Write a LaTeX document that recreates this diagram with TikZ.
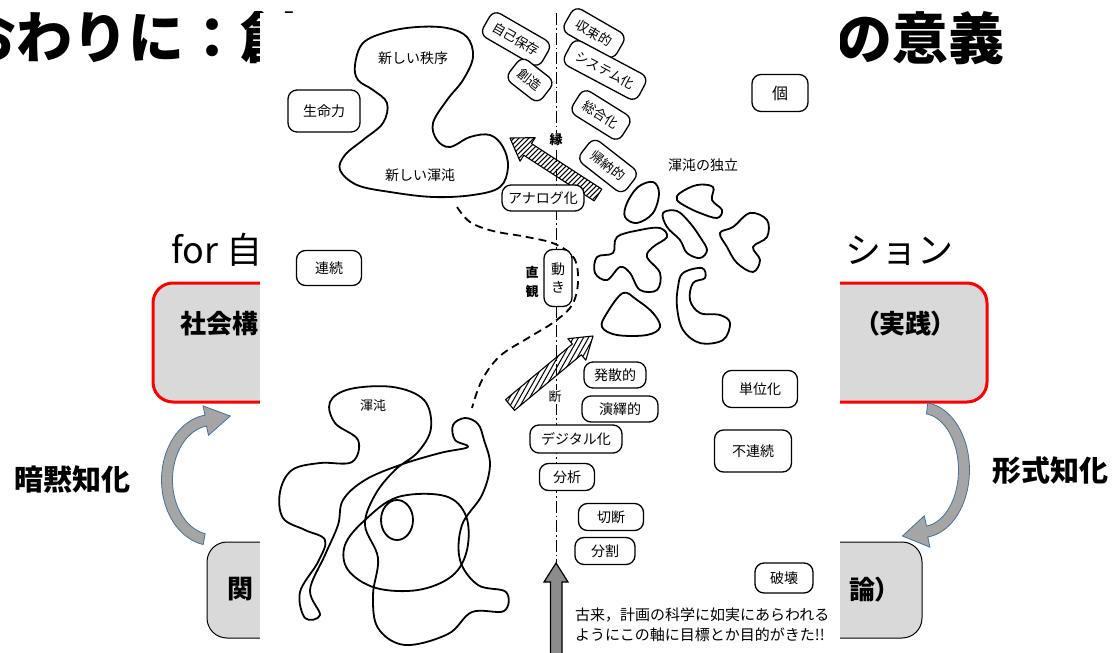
\documentclass[tikz,border=0pt]{standalone}
\usepackage{fontspec}
\newfontfamily\jp{Noto Sans CJK JP}
\usetikzlibrary{calc}
\definecolor{slidegray}{HTML}{D9D9D9}
\definecolor{arrowgray}{HTML}{A5A5A5}
\definecolor{arrowedge}{HTML}{41719C}

% hatched block arrow from tail #1 to tip #2; #3 sets the slant of the hatching
\newcommand\hatcharrow[3]{%
  \path ($(#2)!21pt!(#1)$) coordinate (hb)
    ($(#1)!7pt!90:(#2)$) coordinate (h1) ($(hb)!7pt!90:(#2)$) coordinate (h2)
    ($(hb)!14pt!90:(#2)$) coordinate (h3) ($(hb)!14pt!-90:(#2)$) coordinate (h5)
    ($(hb)!7pt!-90:(#2)$) coordinate (h6) ($(#1)!7pt!-90:(#2)$) coordinate (h7);
  \begin{scope}
    \clip (h1) -- (h2) -- (h3) -- (#2) -- (h5) -- (h6) -- (h7) -- cycle;
    \foreach \k in {-160,-155,...,160}
      \draw[line width=1pt] ($(hb)+(\k-#3,80)$) -- ($(hb)+(\k+#3,-80)$);
  \end{scope}
  \draw[line width=1.1pt, line join=round] (h1) -- (h2) -- (h3) -- (#2) -- (h5) -- (h6) -- (h7) -- cycle;}

\begin{document}
\begin{tikzpicture}[x=1pt,y=-1pt,
  slidetext/.style={inner sep=0pt, font=\jp\bfseries\fontsize{26}{28}\selectfont\addfontfeature{RawFeature=+palt}},
  sidelabel/.style={inner sep=0pt, font=\jp\bfseries\fontsize{29}{30}\selectfont},
  curvedarrow/.style={fill=arrowgray, draw=arrowedge, line width=0.8pt},
  pill/.style={draw, fill=white, rounded corners=9pt, line width=1.3pt, inner sep=0pt,
    font=\jp\fontsize{14}{18}\selectfont},
  tiltpill/.style={pill, rounded corners=8pt, minimum height=28pt, font=\jp\fontsize{13}{16}\selectfont},
  scantext/.style={inner sep=0pt, font=\jp\fontsize{14}{18}\selectfont},
  blob/.style={line width=1.8pt, line join=round},
  axisline/.style={line width=1pt, dash pattern=on 12pt off 3pt on 1.5pt off 3pt},
  dashline/.style={line width=1.8pt, dash pattern=on 8pt off 5pt}]
\useasboundingbox (0,0) rectangle (1117,653);
\fill[white] (0,0) rectangle (1117,653);

% ---------- slide ----------
\node[anchor=west, inner sep=0pt, font=\jp\bfseries\fontsize{56}{60}\selectfont] (title1) at (-40,38) {おわりに：創};
\node[anchor=east, inner sep=0pt, font=\jp\bfseries\fontsize{56}{60}\selectfont] (title2) at (1005,38) {の意義};

\node[anchor=base west, inner sep=0pt, font=\jp\fontsize{36}{40}\selectfont] (sub1) at (171,263) {for 自};
\node[anchor=base east, inner sep=0pt, font=\jp\fontsize{36}{40}\selectfont] (sub2) at (954,263) {ション};

\node[draw=red, line width=3pt, fill=slidegray, rounded corners=20pt,
  minimum width=834pt, minimum height=119pt, inner sep=0pt] (practice) at (570,342.5) {};
\node[slidetext, anchor=west] (practiceL) at (180,324) {社会構};
\node[slidetext, anchor=east] (practiceR) at (945,324) {（実践）};

\node[draw=black, line width=1pt, fill=slidegray, rounded corners=20pt,
  minimum width=715pt, minimum height=96pt, inner sep=0pt] (theory) at (564.5,590) {};
\node[slidetext, anchor=west] (theoryL) at (227,589) {関};
\node[slidetext, anchor=east] (theoryR) at (889,590) {論）};

% curved arrows
\filldraw[curvedarrow]
  plot[domain=100:262, samples=40, variable=\t] ({212+50.5*cos(\t)},{480+65.5*sin(\t)})
  -- (203,405.9) -- (230.3,416) -- (208.5,435.3)
  -- plot[domain=262:100, samples=40, variable=\t] ({212+39.5*cos(\t)},{480+54.5*sin(\t)})
  -- cycle;
\filldraw[curvedarrow]
  plot[domain=-83:83, samples=40, variable=\t] ({922+47.5*cos(\t)},{470+67.5*sin(\t)})
  -- (929.9,547.2) -- (902.5,536) -- (924.3,515.8)
  -- plot[domain=83:-83, samples=40, variable=\t] ({922+36.5*cos(\t)},{470+56.5*sin(\t)})
  -- cycle;

\node[sidelabel] (tacit) at (73,480) {暗黙知化};
\node[sidelabel] (formal) at (1050,471) {形式知化};

% ---------- scanned figure ----------
\fill[white] (260,13) rectangle (840,653);

\coordinate (axtop) at (556,13);
\coordinate (axbot) at (556,563);
\draw[axisline] (axtop) -- (axbot);

% big upward arrow
\filldraw[fill=black!45, draw=black, line width=1.2pt]
  (550.5,655) -- (550.5,582) -- (544,582) -- (axbot) -- (568,582) -- (562,582) -- (562,655) -- cycle;

% new order / new chaos
\draw[blob] plot[smooth cycle, tension=0.6] coordinates {
  (355,65) (363,43) (387,32) (417,27) (447,28) (467,37) (473,57) (463,80)
  (447,100) (433,123) (437,140) (450,147) (470,137) (490,135) (503,147)
  (508,167) (500,187) (473,195) (433,197) (390,192) (357,185) (340,170)
  (345,155) (363,140) (383,123) (387,103) (373,90) (358,80)};
\node[scantext] (order) at (413,58) {新しい秩序};
\node[scantext] (newchaos) at (420,175) {新しい渾沌};

% chaos tangle
\draw[blob] plot[smooth cycle, tension=0.6] coordinates {
  (330,402) (350,389) (393,387) (424,400) (431,428) (418,452) (395,470)
  (375,495) (365,525) (378,558) (373,595) (378,628) (405,645) (448,634)
  (472,612) (504,611) (506,592) (478,585) (460,560) (462,525) (482,495)
  (490,465) (484,440) (478,424) (465,418) (453,425) (455,440) (468,447)
  (440,453) (400,465) (365,480) (343,500) (338,525) (325,555) (310,590)
  (320,615) (305,618) (300,592) (318,562) (325,540) (305,530) (283,518)
  (280,492) (292,470) (320,463) (352,462) (358,440) (335,423)};
\draw[blob] plot[smooth cycle, tension=0.6] coordinates {
  (398,497) (445,496) (466,516) (467,550) (452,576) (418,590) (376,588)
  (348,570) (345,545) (365,520)};
\draw[blob] (397,520) ellipse[x radius=16, y radius=20];
\node[scantext, font=\jp\fontsize{13}{14}\selectfont] (chaos) at (373,406) {渾沌};

% dashed route
\draw[dashline] plot[smooth, tension=0.6] coordinates {
  (457,207) (470,222) (493,231) (527,237) (555,244) (574,258) (578,282)
  (572,305) (554,322) (528,338) (500,356) (482,380) (472,408)};

% hatched arrows
\coordinate (upTail) at (598,195);
\coordinate (upTip) at (510,138);
\hatcharrow{upTail}{upTip}{80}
\coordinate (lowTail) at (510,405);
\coordinate (lowTip) at (593,336);
\hatcharrow{lowTail}{lowTip}{45}

% independent chaos blobs
\draw[blob] plot[smooth cycle, tension=0.6] coordinates {(638,187) (653,182) (659,193) (653,213) (637,223) (625,217) (627,203)};
\draw[blob] plot[smooth cycle, tension=0.6] coordinates {(680,193) (697,185) (713,187) (712,200) (722,210) (717,218) (700,213) (687,207) (677,200)};
\draw[blob] plot[smooth cycle, tension=0.6] coordinates {(663,213) (677,211) (690,223) (700,237) (707,250) (700,258) (687,253) (680,240) (667,227)};
\draw[blob] plot[smooth cycle, tension=0.6] coordinates {(720,233) (733,227) (750,213) (767,220) (767,237) (753,247) (760,260) (753,272) (737,263) (727,247)};
\draw[blob] plot[smooth cycle, tension=0.6] coordinates {(617,237) (640,230) (660,228) (667,237) (653,247) (647,257) (660,273) (657,290) (640,290) (630,273) (620,267) (607,280) (595,273) (597,257) (613,253)};
\draw[blob] plot[smooth cycle, tension=0.6] coordinates {(623,293) (637,300) (653,313) (660,327) (647,335) (617,335) (602,327) (607,313)};
\draw[blob] plot[smooth cycle, tension=0.6] coordinates {(683,273) (702,268) (705,278) (693,283) (690,300) (700,313) (720,315) (730,323) (723,340) (700,343) (683,330) (677,307) (678,287)};
\node[scantext] (indep) at (703,165) {渾沌の独立};

% labelled capsules
\node[tiltpill, rotate=-30, minimum width=68pt] (jiko) at (516,39) {自己保存};
\node[tiltpill, rotate=-38, minimum width=42pt] (souzou) at (530,80) {創造};
\node[tiltpill, rotate=-30, minimum width=60pt] (shusoku) at (594,33) {収束的};
\node[tiltpill, rotate=-28, minimum width=84pt] (system) at (605,70) {システム化};
\node[tiltpill, rotate=-32, minimum width=58pt] (sougou) at (601,115) {総合化};
\node[tiltpill, rotate=-38, minimum width=58pt] (kinou) at (608,166) {帰納的};
\node[pill, minimum width=82pt, minimum height=26pt] (analog) at (543,198) {アナログ化};
\node[pill, minimum width=28pt, minimum height=57pt, align=center] (ugoki) at (558,278) {動\\き};
\node[pill, minimum width=56pt, minimum height=37pt, font=\jp\fontsize{16}{18}\selectfont] (ko) at (780,93) {個};
\node[pill, minimum width=72pt, minimum height=42pt] (seimei) at (324,111) {生命力};
\node[pill, minimum width=65pt, minimum height=35pt] (renzoku) at (329,268) {連続};
\node[pill, minimum width=62pt, minimum height=26pt] (hassan) at (615,375) {発散的};
\node[pill, minimum width=76pt, minimum height=26pt] (eneki) at (620,409) {演繹的};
\node[pill, minimum width=92pt, minimum height=28pt] (digital) at (576,439) {デジタル化};
\node[pill, minimum width=55pt, minimum height=27pt] (bunseki) at (567,477) {分析};
\node[pill, minimum width=65pt, minimum height=27pt] (setsudan) at (611,517) {切断};
\node[pill, minimum width=60pt, minimum height=27pt] (bunkatsu) at (605,551) {分割};
\node[pill, minimum width=75pt, minimum height=37pt] (tanni) at (760,389) {単位化};
\node[pill, minimum width=77pt, minimum height=42pt] (furen) at (753,451) {不連続};
\node[pill, minimum width=58pt, minimum height=30pt] (hakai) at (784,578) {破壊};

% axis labels
\node[fill=white, inner sep=1pt, font=\jp\bfseries\fontsize{13}{14}\selectfont] (en) at (556,140) {縁};
\node[fill=white, inner sep=1pt, font=\jp\fontsize{13}{14}\selectfont] (dan) at (555,397) {断};
\node[inner sep=0pt, align=center, font=\jp\bfseries\fontsize{13}{19}\selectfont] (chokkan) at (532,282) {直\\観};

% caption
\node[anchor=north west, inner sep=0pt, align=left, font=\jp\fontsize{15}{20}\selectfont] (caption) at (575,608)
  {古来，計画の科学に如実にあらわれる\\ようにこの軸に目標とか目的がきた!!};
\end{tikzpicture}
\end{document}
